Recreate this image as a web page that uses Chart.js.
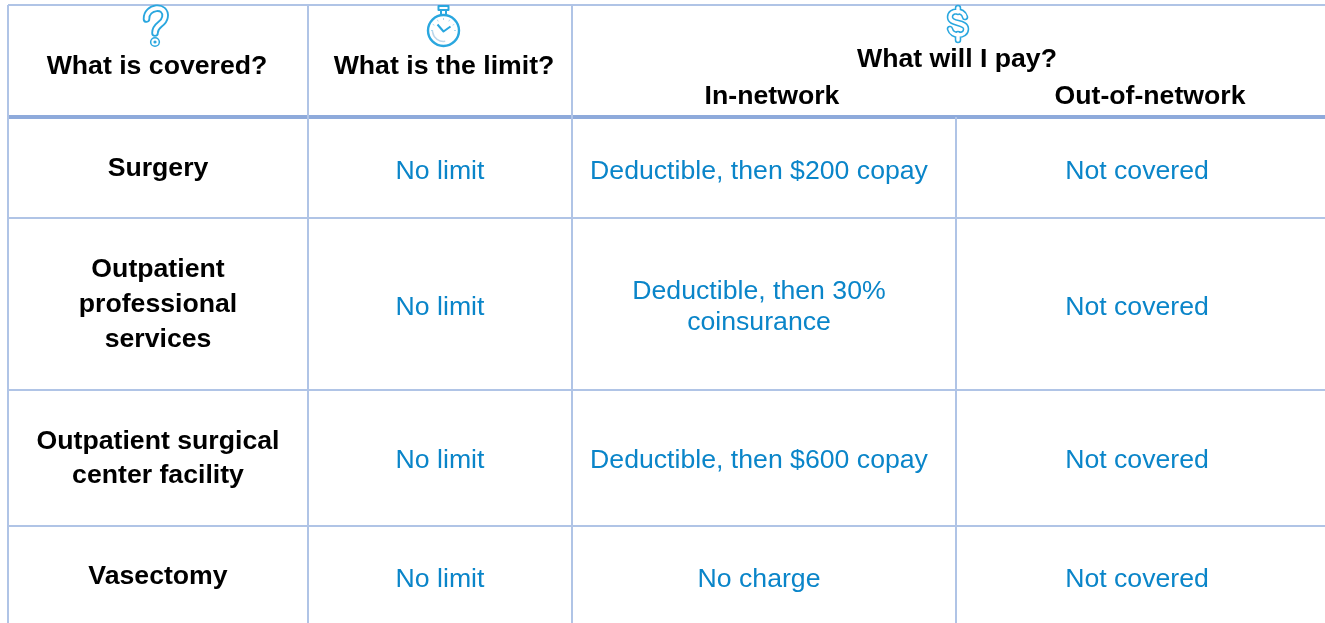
<!DOCTYPE html>
<html>
<head>
<meta charset="utf-8">
<style>
html,body{margin:0;padding:0;background:#fff;overflow:hidden}
#wrap{position:relative;width:1325px;height:623px}
canvas{display:block}
</style>
<script src="https://cdn.jsdelivr.net/npm/chart.js@4"></script>
</head>
<body>
<div id="wrap"><canvas id="c" width="1325" height="623"></canvas></div>
<script>
// ---- table content ----
const coverageItems = [["Surgery"],["Outpatient","professional","services"],["Outpatient surgical","center facility"],["Vasectomy"]];
const limitValues = ["No limit","No limit","No limit","No limit"];
const inNetworkValues = [["Deductible, then $200 copay"],["Deductible, then 30%","coinsurance"],["Deductible, then $600 copay"],["No charge"]];
const outNetworkValues = ["Not covered","Not covered","Not covered","Not covered"];
const headerCovered = "What is covered?";
const headerLimit = "What is the limit?";
const headerPay = "What will I pay?";
const headerIn = "In-network";
const headerOut = "Out-of-network";

// ---- layout in scale units ----
const colEdges = [8,308,572,956,1325];
const rowEdges = [5,117,218,390,526,623];
const coverageLineCentres = [[167],[268,303,338],[440,474],[575]];
const valueCentres = [170,306,459,578];
const inNetworkLineCentres = [[170],[290,321],[459],[578]];
const colCentres = [158,440,759,1137];

const thin = "#b0c4e6", thick = "#8eaadb", black = "#000000", blue = "#0a85c9", icon = "#2aa7df";
const seg = (x1,y1,x2,y2,color,w)=>({type:"line",data:[{x:x1,y:y1},{x:x2,y:y2}],borderColor:color,borderWidth:w,pointRadius:0,parsing:false,tension:0});
const datasets = [
  seg(colEdges[0],rowEdges[0],1325,rowEdges[0],thin,2),
  seg(colEdges[0],rowEdges[0],colEdges[0],623,thin,2),
  seg(colEdges[1],rowEdges[0],colEdges[1],623,thin,2),
  seg(colEdges[2],rowEdges[0],colEdges[2],623,thin,2),
  seg(colEdges[3],rowEdges[1],colEdges[3],623,thin,2),
  seg(colEdges[0],rowEdges[2],1325,rowEdges[2],thin,2),
  seg(colEdges[0],rowEdges[3],1325,rowEdges[3],thin,2),
  seg(colEdges[0],rowEdges[4],1325,rowEdges[4],thin,2),
  seg(colEdges[0],rowEdges[1],1325,rowEdges[1],thick,4)
];

const tablePlugin = {
  id:"tableText",
  afterDatasetsDraw(chart){
    const {ctx,scales:{x,y}} = chart;
    const X=v=>x.getPixelForValue(v), Y=v=>y.getPixelForValue(v);
    const put=(s,cx,cy,bold,color)=>{
      ctx.font=(bold?"bold ":"")+"26.67px 'Liberation Sans', Arial, sans-serif";
      ctx.fillStyle=color; ctx.textAlign="center"; ctx.textBaseline="alphabetic";
      ctx.fillText(s,X(cx),Y(cy)+9);
    };
    ctx.save();
    put(headerCovered,157,65,true,black);
    put(headerLimit,444,65,true,black);
    put(headerPay,957,58,true,black);
    put(headerIn,772,95,true,black);
    put(headerOut,1150,95,true,black);
    coverageItems.forEach((lines,i)=>lines.forEach((s,j)=>put(s,colCentres[0],coverageLineCentres[i][j],true,black)));
    limitValues.forEach((s,i)=>put(s,colCentres[1],valueCentres[i],false,blue));
    inNetworkValues.forEach((lines,i)=>lines.forEach((s,j)=>put(s,colCentres[2],inNetworkLineCentres[i][j],false,blue)));
    outNetworkValues.forEach((s,i)=>put(s,colCentres[3],valueCentres[i],false,blue));

    // outlined header icons: a thick blue stroke with a white core
    const outlined=(draw,outer,inner)=>{
      ctx.lineCap="round"; ctx.lineJoin="round";
      ctx.strokeStyle=icon; ctx.lineWidth=outer; ctx.beginPath(); draw(); ctx.stroke();
      ctx.strokeStyle="#ffffff"; ctx.lineWidth=inner; ctx.beginPath(); draw(); ctx.stroke();
    };
    // question mark
    outlined(()=>{
      ctx.moveTo(X(146.5),Y(19));
      ctx.bezierCurveTo(X(146),Y(6),X(167),Y(4),X(165),Y(17));
      ctx.bezierCurveTo(X(164),Y(25),X(155),Y(24),X(155),Y(33));
    },7.5,3.8);
    outlined(()=>{ ctx.arc(X(155),Y(42),2.6,0,Math.PI*2); },5,2);
    // dollar sign
    outlined(()=>{
      ctx.moveTo(X(965),Y(17));
      ctx.bezierCurveTo(X(963),Y(9),X(950),Y(10),X(950),Y(17));
      ctx.bezierCurveTo(X(950),Y(25),X(966),Y(21),X(966),Y(29));
      ctx.bezierCurveTo(X(966),Y(37),X(952),Y(37),X(950),Y(29));
      ctx.moveTo(X(958),Y(8)); ctx.lineTo(X(958),Y(12));
      ctx.moveTo(X(958),Y(34)); ctx.lineTo(X(958),Y(40));
    },6.5,3.4);
    // stopwatch
    const px=X(443.5), py=Y(30.5);
    ctx.strokeStyle=icon; ctx.lineWidth=2.4; ctx.lineCap="butt";
    ctx.beginPath(); ctx.arc(px,py,15.5,0,Math.PI*2); ctx.stroke();
    ctx.lineWidth=2;
    ctx.strokeRect(px-5,py-24.5,10,4);
    ctx.beginPath(); ctx.moveTo(px-2.5,py-20.5); ctx.lineTo(px-2.5,py-16); ctx.moveTo(px+2.5,py-20.5); ctx.lineTo(px+2.5,py-16); ctx.stroke();
    ctx.beginPath(); ctx.moveTo(px-6,py-6); ctx.lineTo(px,py+1); ctx.lineTo(px+7,py-4); ctx.stroke();
    ctx.strokeStyle="#bcd6ea"; ctx.lineWidth=1.5;
    ctx.beginPath(); ctx.arc(px,py,11,Math.PI*0.45,Math.PI*1.0); ctx.stroke();
    ctx.strokeStyle="#a9d8ef"; ctx.lineWidth=1;
    [0,1,2,3,9,10,11].forEach(k=>{
      const a=k*Math.PI/6-Math.PI/2;
      ctx.beginPath(); ctx.moveTo(px+Math.cos(a)*10.5,py+Math.sin(a)*10.5); ctx.lineTo(px+Math.cos(a)*12.5,py+Math.sin(a)*12.5); ctx.stroke();
    });
    ctx.restore();
  }
};

new Chart(document.getElementById("c"),{
  type:"scatter",
  data:{datasets},
  options:{
    responsive:false,animation:false,
    layout:{padding:0},
    plugins:{legend:{display:false},tooltip:{enabled:false},title:{display:false}},
    scales:{
      x:{type:"linear",min:0,max:1325,display:false},
      y:{type:"linear",min:0,max:623,reverse:true,display:false}
    }
  },
  plugins:[tablePlugin]
});
</script>
</body>
</html>
